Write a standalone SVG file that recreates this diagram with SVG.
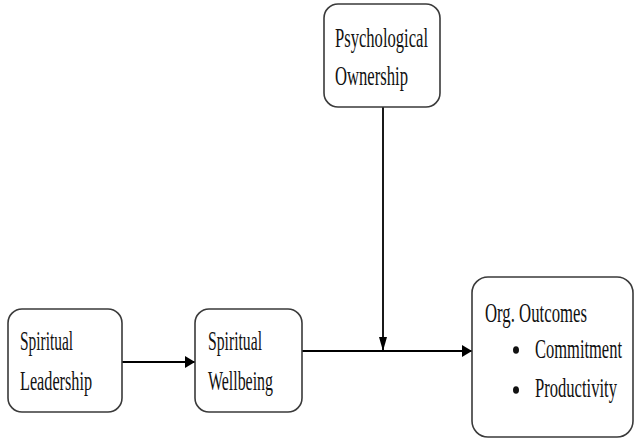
<svg xmlns="http://www.w3.org/2000/svg" width="635" height="440" viewBox="0 0 635 440">
<style>
.box{fill:#fff;stroke:#3a3a3a;stroke-width:1.6}
.t{font-family:"Liberation Serif","Times New Roman",serif;font-size:28px;fill:#111}
.c{stroke:#000;stroke-width:1.8;fill:none}
</style>
<defs>
<marker id="ah" viewBox="0 0 10 12" refX="10" refY="6" markerWidth="10" markerHeight="12" markerUnits="userSpaceOnUse" orient="auto">
<path d="M0,0 L10,6 L0,12 z" fill="#000"/>
</marker>
<marker id="av" viewBox="0 0 14 8" refX="14" refY="4" markerWidth="14" markerHeight="8" markerUnits="userSpaceOnUse" orient="auto">
<path d="M0,0 L14,4 L0,8 z" fill="#000"/>
</marker>
</defs>
<rect width="635" height="440" fill="#fff"/>
<g id="connectors">
<line class="c" x1="122" y1="362" x2="195" y2="362" marker-end="url(#ah)"/>
<line class="c" x1="302" y1="351" x2="472" y2="351" marker-end="url(#ah)"/>
<line class="c" x1="383" y1="107" x2="383" y2="351" marker-end="url(#av)"/>
</g>
<g id="psychological-ownership">
<rect class="box" x="324" y="4" width="116" height="103" rx="14"/>
<text class="t" x="335" y="47" textLength="93" lengthAdjust="spacingAndGlyphs">Psychological</text>
<text class="t" x="335" y="85" textLength="73" lengthAdjust="spacingAndGlyphs">Ownership</text>
</g>
<g id="spiritual-leadership">
<rect class="box" x="8" y="309" width="114" height="103" rx="14"/>
<text class="t" x="20" y="350" textLength="53" lengthAdjust="spacingAndGlyphs">Spiritual</text>
<text class="t" x="20" y="390" textLength="72" lengthAdjust="spacingAndGlyphs">Leadership</text>
</g>
<g id="spiritual-wellbeing">
<rect class="box" x="195" y="309" width="107" height="103" rx="14"/>
<text class="t" x="208" y="350" textLength="54" lengthAdjust="spacingAndGlyphs">Spiritual</text>
<text class="t" x="208" y="390" textLength="65" lengthAdjust="spacingAndGlyphs">Wellbeing</text>
</g>
<g id="org-outcomes">
<rect class="box" x="472" y="277" width="161" height="160" rx="16"/>
<text class="t" x="485" y="322" textLength="102" lengthAdjust="spacingAndGlyphs">Org. Outcomes</text>
<ellipse cx="516" cy="350" rx="3" ry="3.8" fill="#111"/>
<text class="t" x="535" y="358" textLength="87" lengthAdjust="spacingAndGlyphs">Commitment</text>
<ellipse cx="516" cy="390" rx="3" ry="3.8" fill="#111"/>
<text class="t" x="535" y="397" textLength="82" lengthAdjust="spacingAndGlyphs">Productivity</text>
</g>
</svg>
